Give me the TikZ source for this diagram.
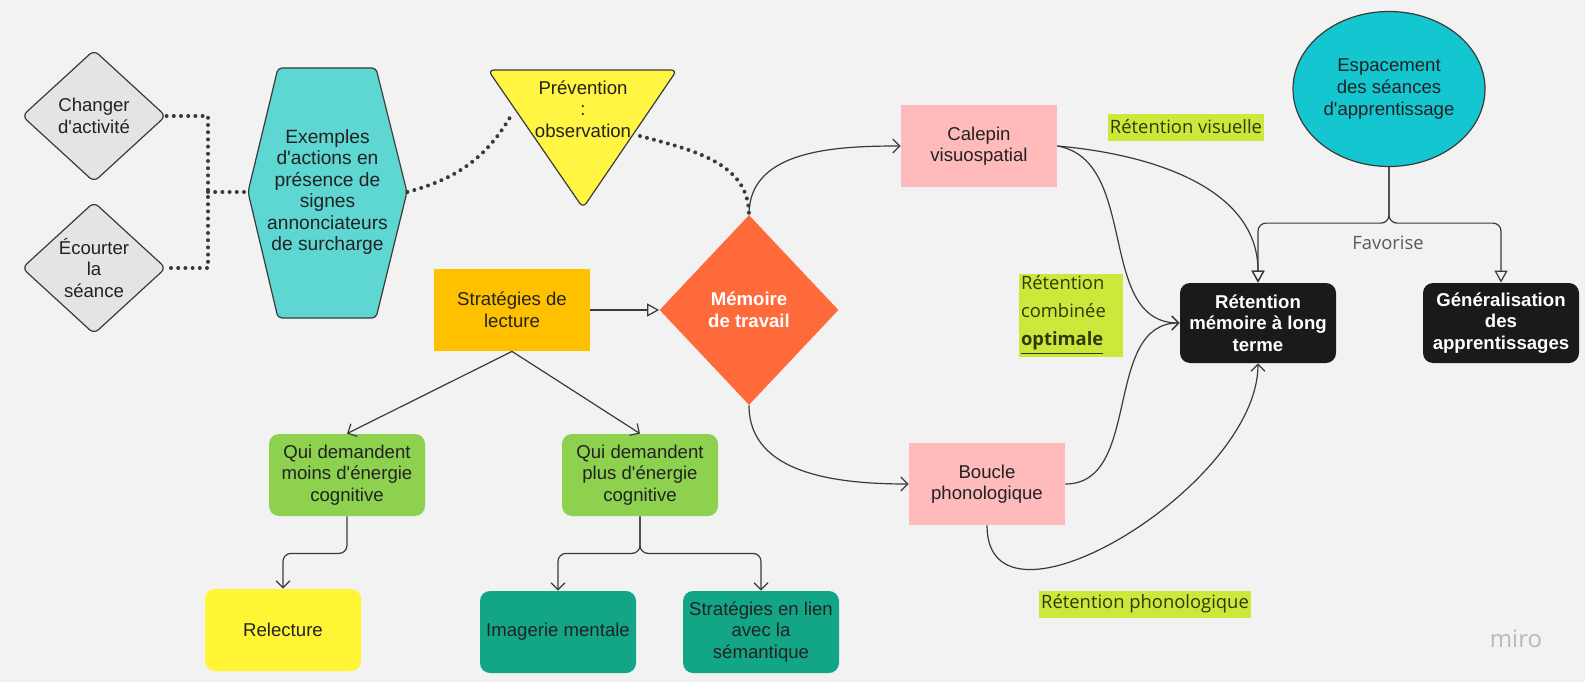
\documentclass[tikz,border=0pt]{standalone}
\usepackage{fontspec}
\setmainfont{Liberation Sans}[Ligatures=TeXOff]
\newfontfamily\opensans{Open Sans}[Ligatures=TeXOff]
\usepackage{tikz}
\usetikzlibrary{shapes.geometric, arrows.meta}

\definecolor{paper}{HTML}{F2F2F2}
\definecolor{ink}{HTML}{222222}
\definecolor{wire}{HTML}{3A3A3A}
\definecolor{grisclair}{HTML}{E4E4E4}
\definecolor{turquoise}{HTML}{5ED7D2}
\definecolor{jaune}{HTML}{FFF542}
\definecolor{ambre}{HTML}{FFC000}
\definecolor{corail}{HTML}{FF6A3B}
\definecolor{vertclair}{HTML}{8ED14F}
\definecolor{jaunepale}{HTML}{FFF535}
\definecolor{sarcelle}{HTML}{12A687}
\definecolor{rose}{HTML}{FFBBBB}
\definecolor{noir}{HTML}{1A1A1A}
\definecolor{cyanvif}{HTML}{14C6CF}
\definecolor{limevif}{HTML}{CDE83B}
\definecolor{texteolive}{HTML}{2F3A0C}
\definecolor{grismoyen}{HTML}{5A5A5A}
\definecolor{grismiro}{HTML}{B8B8C0}

\begin{document}
\begin{tikzpicture}[x=0.5pt, y=0.5pt,
    txt/.style={align=center, text=ink, font=\fontsize{9.3}{10.8}\selectfont},
    boite/.style={txt, minimum width=78pt, minimum height=41pt, inner sep=1pt},
    arrondi/.style={boite, rounded corners=5pt},
    losange/.style={txt, diamond, inner sep=-15pt, draw=wire, fill=grisclair, line width=0.6pt, rounded corners=3pt, minimum width=72pt, minimum height=66pt},
    etiquette/.style={fill=limevif, text=texteolive, inner sep=1pt, font=\opensans\fontsize{9.2}{14}\selectfont},
    fleche/.style={draw=wire, line width=0.6pt, -{Straight Barb[length=3.5pt,width=7pt]}},
    ouverte/.style={draw=wire, line width=0.6pt, -{Triangle[open,length=6pt,width=6.5pt]}},
    pointille/.style={draw=wire, line width=2pt, line cap=round, dash pattern=on 0pt off 3.6pt}]
    \useasboundingbox (0,0) rectangle (1585,682);
    \fill[paper] (0,0) rectangle (1585,682);

    \node[losange] (chg) at (94,566) {Changer\\d'activité};
    \node[losange] (eco) at (94,414) {Écourter\\la\\séance};
    \draw[draw=wire, fill=turquoise, line width=0.6pt, rounded corners=2pt] (248,490) -- (278,614) -- (376,614) -- (407,490) -- (376,364) -- (278,364) -- cycle;
    \node[txt, minimum width=79.5pt, inner sep=0pt, font=\fontsize{9.6}{10.7}\selectfont] (ex) at (327.5,490) {Exemples\\d'actions en\\présence de\\signes\\annonciateurs\\de surcharge};
    \coordinate (j) at (208,490);
    \draw[pointille] (chg.east) -| (j) |- (eco.east);
    \draw[pointille] (j) -- (ex.west);

    \draw[draw=wire, fill=jaune, line width=0.6pt, rounded corners=3pt] (488,612) -- (677,612) -- (583,474) -- cycle;
    \node[txt] (prev) at (583,573) {Prévention\\:\\observation};
    \coordinate (prevG) at (512,568);
    \coordinate (prevD) at (640,546);

    \node[boite, fill=ambre] (strat) at (512,372) {Stratégies de\\lecture};
    \node[txt, diamond, inner sep=-20pt, fill=corail, text=white, font=\bfseries\fontsize{9.3}{10.8}\selectfont, minimum width=89.5pt, minimum height=95pt] (mem) at (749,372) {Mémoire\\de travail};
    \draw[pointille] (ex.east) to[out=15,in=240] (prevG);
    \draw[pointille] (prevD) to[out=-15,in=90] (mem.north);
    \draw[ouverte] (strat.east) -- (mem.west);

    \node[arrondi, fill=vertclair] (moins) at (347,207) {Qui demandent\\moins d'énergie\\cognitive};
    \node[arrondi, fill=vertclair] (plus) at (640,207) {Qui demandent\\plus d'énergie\\cognitive};
    \node[arrondi, fill=jaunepale] (rel) at (283,52) {Relecture};
    \node[arrondi, fill=sarcelle] (img) at (558,50) {Imagerie mentale};
    \node[arrondi, fill=sarcelle] (sem) at (761,50) {Stratégies en lien\\avec la\\sémantique};
    \draw[fleche] (strat.south) -- (moins.north);
    \draw[fleche] (strat.south) -- (plus.north);
    \draw[fleche, rounded corners=4pt] (moins.south) -- ++(0,-37) -| (rel.north);
    \draw[fleche, rounded corners=4pt] (plus.south) -- ++(0,-37) -| (img.north);
    \draw[fleche, rounded corners=4pt] (plus.south) -- ++(0,-37) -| (sem.north);

    \node[boite, fill=rose] (cal) at (979,536) {Calepin\\visuospatial};
    \node[boite, fill=rose] (bou) at (987,198) {Boucle\\phonologique};
    \draw[fleche] (mem.north) to[out=90,in=180] (cal.west);
    \draw[fleche] (mem.south) to[out=270,in=180] (bou.west);

    \node[arrondi, fill=noir, text=white, minimum height=40pt, font=\bfseries\fontsize{9.3}{10.8}\selectfont] (ret) at (1258,359) {Rétention\\mémoire à long\\terme};
    \node[arrondi, fill=noir, text=white, minimum height=40pt, font=\bfseries\fontsize{9.3}{10.8}\selectfont] (gen) at (1501,359) {Généralisation\\des\\apprentissages};
    \node[txt, ellipse, draw=wire, fill=cyanvif, line width=0.6pt, inner sep=-12pt, minimum width=96pt, minimum height=77.5pt] (esp) at (1389,593) {Espacement\\des séances\\d'apprentissage};
    \draw[ouverte, rounded corners=4pt] (esp.south) -- ++(0,-56) -| (ret.north);
    \draw[ouverte, rounded corners=4pt] (esp.south) -- ++(0,-56) -| (gen.north);
    \node[text=grismoyen, font=\opensans\fontsize{9.2}{11}\selectfont] (fav) at (1388,439) {Favorise};

    \draw[ouverte] (cal.east) to[out=-5,in=90] (ret.north);
    \draw[fleche] (cal.east) to[out=-10,in=180] (ret.west);
    \draw[fleche] (bou.east) to[out=0,in=180] (ret.west);
    \draw[fleche] (bou.south) to[out=270,in=270] (ret.south);

    \node[etiquette, minimum width=77.5pt, minimum height=13.5pt] (lvis) at (1186,555) {Rétention visuelle};
    \node[etiquette, text width=50pt, align=left, minimum height=41.5pt] (lcomb) at (1071,367) {Rétention\\combinée\\\textbf{\underline{optimale}}};
    \node[etiquette, minimum width=106pt, minimum height=13.5pt] (lpho) at (1145,78) {Rétention phonologique};
    \node[text=grismiro, font=\opensans\fontsize{12}{14}\selectfont] (miro) at (1516,43) {miro};
\end{tikzpicture}
\end{document}
